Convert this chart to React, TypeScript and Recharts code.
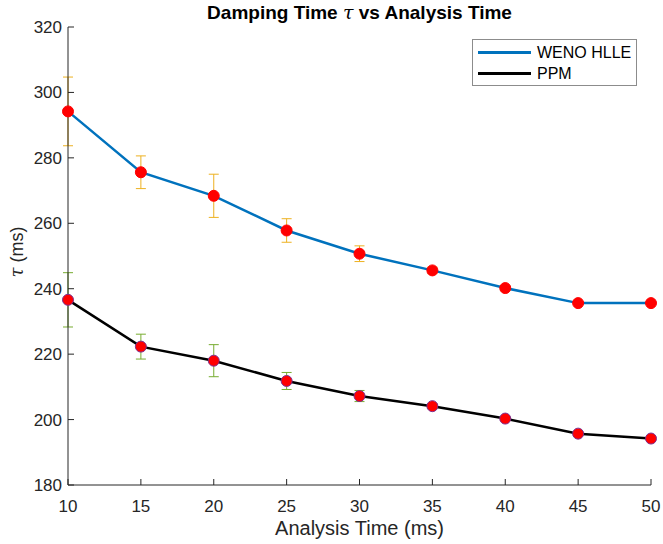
import { LineChart, Line, XAxis, YAxis, ErrorBar, Legend } from "recharts";

const times = [10, 15, 20, 25, 30, 35, 40, 45, 50];
const wenoTau = [294.2, 275.6, 268.4, 257.8, 250.7, 245.6, 240.2, 235.6, 235.6];
const wenoErr = [10.5, 5, 6.6, 3.6, 2.4, 1, 0.8, 0.4, 0.4];
const ppmTau = [236.6, 222.3, 218.0, 211.8, 207.2, 204.1, 200.3, 195.7, 194.2];
const ppmErr = [8.3, 3.8, 4.9, 2.6, 1.7, 0.7, 0.5, 0.5, 0.4];
const xTicks = [10, 15, 20, 25, 30, 35, 40, 45, 50];
const yTicks = [180, 200, 220, 240, 260, 280, 300, 320];

const data = times.map((t, i) => ({
  t,
  weno: wenoTau[i],
  wenoErr: wenoErr[i],
  ppm: ppmTau[i],
  ppmErr: ppmErr[i],
}));

const font = "'Liberation Sans', Arial, Helvetica, sans-serif";
const axisColor = "#262626";

const YTick = (props: any) => {
  const { x, y, payload } = props;
  return (
    <g>
      <line x1={x} x2={x + 6} y1={y} y2={y} stroke={axisColor} strokeWidth={1} />
      <text x={x - 6} y={y} dy={6} textAnchor="end" fontSize={17} fill={axisColor} fontFamily={font}>
        {payload.value}
      </text>
    </g>
  );
};

const XTick = (props: any) => {
  const { x, y, payload } = props;
  return (
    <g>
      <line x1={x} x2={x} y1={y} y2={y - 6} stroke={axisColor} strokeWidth={1} />
      <text x={x} y={y + 27} textAnchor="middle" fontSize={17} fill={axisColor} fontFamily={font}>
        {payload.value}
      </text>
    </g>
  );
};

const legendItems = [
  { name: "WENO HLLE", color: "#0072BD" },
  { name: "PPM", color: "#000000" },
];

const LegendBox = () => (
  <div
    style={{
      border: "1px solid #8c8c8c",
      background: "#fff",
      width: 165,
      height: 47,
      boxSizing: "border-box",
      padding: "2px 0 0 5px",
      fontFamily: font,
      fontSize: 16,
      color: "#000",
    }}
  >
    {legendItems.map((it) => (
      <div key={it.name} style={{ display: "flex", alignItems: "center", height: 21 }}>
        <span style={{ display: "inline-block", width: 53, height: 2.5, background: it.color, marginRight: 6 }} />
        <span>{it.name}</span>
      </div>
    ))}
  </div>
);

export default function App() {
  return (
    <div style={{ position: "relative", width: 663, height: 544, background: "#fff", fontFamily: font }}>
      <style>{"body{margin:0;background:#fff}"}</style>
      <LineChart width={663} height={544} data={data} margin={{ top: 27, right: 12, left: 0, bottom: 0 }}>
        <XAxis
          dataKey="t"
          type="number"
          domain={[10, 50]}
          ticks={xTicks}
          height={59}
          tickSize={0}
          tickMargin={0}
          tickLine={false}
          tick={<XTick />}
          stroke={axisColor}
          interval={0}
        />
        <YAxis
          type="number"
          domain={[180, 320]}
          ticks={yTicks}
          width={68}
          tickSize={0}
          tickMargin={0}
          tickLine={false}
          tick={<YTick />}
          stroke={axisColor}
          interval={0}
        />
        <Legend
          layout="vertical"
          align="center"
          verticalAlign="middle"
          content={<LegendBox />}
          wrapperStyle={{ top: 39, left: 472, width: 165, height: 47 }}
        />
        <Line
          dataKey="weno"
          stroke="#0072BD"
          strokeWidth={2.5}
          dot={{ r: 5.5, fill: "#ff0000", stroke: "#ff0000", strokeWidth: 1 }}
          activeDot={false}
          isAnimationActive={false}
        />
        <Line
          dataKey="ppm"
          stroke="#000000"
          strokeWidth={2.5}
          dot={{ r: 5.5, fill: "#ff0000", stroke: "#7E2F8E", strokeWidth: 1 }}
          activeDot={false}
          isAnimationActive={false}
        />
        <Line dataKey="weno" stroke="none" dot={false} activeDot={false} legendType="none" isAnimationActive={false}>
          <ErrorBar dataKey="wenoErr" width={5} stroke="#EDB120" strokeWidth={1} direction="y" isAnimationActive={false} />
        </Line>
        <Line dataKey="ppm" stroke="none" dot={false} activeDot={false} legendType="none" isAnimationActive={false}>
          <ErrorBar dataKey="ppmErr" width={5} stroke="#77AC30" strokeWidth={1} direction="y" isAnimationActive={false} />
        </Line>
      </LineChart>
      <div
        style={{
          position: "absolute",
          left: 68,
          width: 583,
          top: 1,
          textAlign: "center",
          fontWeight: "bold",
          fontSize: 19,
          color: "#000",
        }}
      >
        Damping Time <i style={{ fontFamily: "'DejaVu Serif', serif", fontWeight: "normal" }}>τ</i> vs Analysis Time
      </div>
      <div
        style={{
          position: "absolute",
          left: 68,
          width: 583,
          top: 517,
          textAlign: "center",
          fontSize: 20,
          color: axisColor,
        }}
      >
        Analysis Time (ms)
      </div>
      <div
        style={{
          position: "absolute",
          left: 17,
          top: 252,
          transform: "translate(-50%, -50%) rotate(-90deg)",
          whiteSpace: "nowrap",
          fontSize: 18,
          color: axisColor,
        }}
      >
        <i style={{ fontFamily: "'DejaVu Serif', serif" }}>τ</i> (ms)
      </div>
    </div>
  );
}
